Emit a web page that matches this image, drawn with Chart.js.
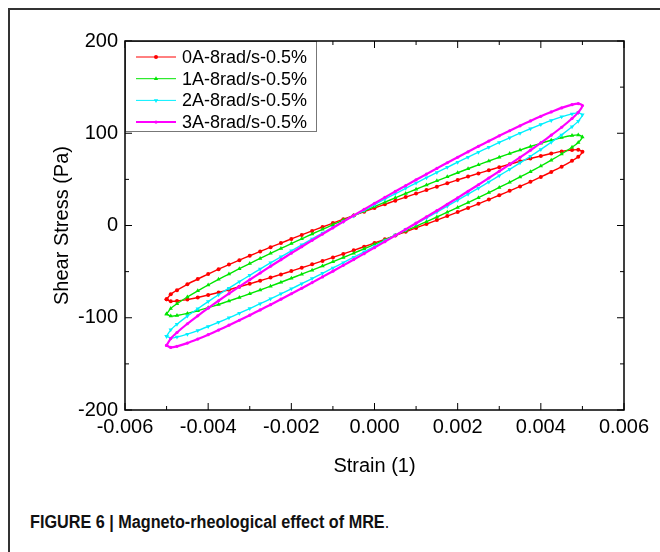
<!DOCTYPE html>
<html>
<head>
<meta charset="utf-8">
<script src="https://cdn.jsdelivr.net/npm/chart.js@4.4.1/dist/chart.umd.min.js"></script>
<style>
  html, body { margin: 0; padding: 0; background: #fff; }
  body { width: 660px; height: 552px; position: relative; overflow: hidden; }
  #frame { position: absolute; left: 8px; top: 8px; width: 660px; height: 560px;
           border-left: 2px solid #333; border-top: 2px solid #333; }
  #wrap { position: absolute; left: 0; top: 0; width: 660px; height: 500px; }
  #caption { position: absolute; left: 30px; top: 512px; font-family: "Liberation Sans", Arial, sans-serif;
             font-size: 18px; font-weight: bold; color: #111; transform: scaleX(0.9); transform-origin: left top;
             white-space: nowrap; }
  #caption span { font-weight: normal; }
</style>
</head>
<body>
<div id="frame"></div>
<div id="wrap"><canvas id="mre-chart" width="660" height="500"></canvas></div>
<div id="caption">FIGURE 6 | Magneto-rheological effect of MRE<span>.</span></div>
<script>
  // strain path: lower branch left -> right, then upper branch back
  const strain = [-0.005, -0.0049, -0.00475, -0.0045, -0.00425, -0.004, -0.00375, -0.0035, -0.00325, -0.003, -0.00275,
    -0.0025, -0.00225, -0.002, -0.00175, -0.0015, -0.00125, -0.001, -0.00075, -0.0005, -0.00025, 0,
    0.00025, 0.0005, 0.00075, 0.001, 0.00125, 0.0015, 0.00175, 0.002, 0.00225, 0.0025, 0.00275, 0.003,
    0.00325, 0.0035, 0.00375, 0.004, 0.00425, 0.0045, 0.00475, 0.0049, 0.005,
    0.0049, 0.00475, 0.0045, 0.00425, 0.004, 0.00375, 0.0035, 0.00325, 0.003, 0.00275, 0.0025, 0.00225,
    0.002, 0.00175, 0.0015, 0.00125, 0.001, 0.00075, 0.0005, 0.00025, 0, -0.00025, -0.0005, -0.00075,
    -0.001, -0.00125, -0.0015, -0.00175, -0.002, -0.00225, -0.0025, -0.00275, -0.003, -0.00325, -0.0035,
    -0.00375, -0.004, -0.00425, -0.0045, -0.00475, -0.0049, -0.005];

  const stress0A = [-80, -82.2, -81.9, -80.3, -78.0, -75.4, -72.6, -69.6, -66.4, -63.2, -59.9,
    -56.5, -53.0, -49.4, -45.8, -42.1, -38.4, -34.6, -30.8, -26.9, -23.0, -19,
    -15.0, -10.9, -6.8, -2.6, 1.6, 5.9, 10.2, 14.6, 19.0, 23.5, 28.1, 32.8,
    37.6, 42.4, 47.4, 52.6, 58.0, 63.7, 70.1, 74.6, 80,
    82.2, 81.9, 80.3, 78.0, 75.4, 72.6, 69.6, 66.4, 63.2, 59.9, 56.5, 53.0,
    49.4, 45.8, 42.1, 38.4, 34.6, 30.8, 26.9, 23.0, 19, 15.0, 10.9, 6.8,
    2.6, -1.6, -5.9, -10.2, -14.6, -19.0, -23.5, -28.1, -32.8, -37.6, -42.4,
    -47.4, -52.6, -58.0, -63.7, -70.1, -74.6, -80];
  const stress1A = [-96, -98.2, -97.6, -95.3, -92.4, -89.1, -85.6, -81.8, -78.0, -74, -69.9,
    -65.8, -61.5, -57.2, -52.8, -48.4, -43.9, -39.3, -34.7, -30, -25.3, -20.5,
    -15.7, -10.8, -5.9, -0.9, 4.2, 9.2, 14.4, 19.6, 24.9, 30.2, 35.7, 41.2,
    46.8, 52.6, 58.4, 64.5, 70.8, 77.5, 84.8, 90, 96,
    98.2, 97.6, 95.3, 92.4, 89.1, 85.6, 81.8, 78.0, 74, 69.9, 65.8, 61.5,
    57.2, 52.8, 48.4, 43.9, 39.3, 34.7, 30, 25.3, 20.5, 15.7, 10.8, 5.9,
    0.9, -4.2, -9.2, -14.4, -19.6, -24.9, -30.2, -35.7, -41.2, -46.8, -52.6,
    -58.4, -64.5, -70.8, -77.5, -84.8, -90, -96];
  const stress2A = [-120, -122.1, -121, -117.8, -113.9, -109.5, -104.9, -100.1, -95.1, -90, -84.8,
    -79.5, -74.1, -68.6, -63.1, -57.5, -51.8, -46, -40.3, -34.4, -28.5, -22.5,
    -16.5, -10.4, -4.3, 2, 8.2, 14.5, 20.9, 27.4, 33.9, 40.5, 47.2, 54,
    60.9, 67.9, 75.1, 82.5, 90.2, 98.2, 107, 113.1, 120,
    122.1, 121, 117.8, 113.9, 109.5, 104.9, 100.1, 95.1, 90, 84.8, 79.5, 74.1,
    68.6, 63.1, 57.5, 51.8, 46, 40.3, 34.4, 28.5, 22.5, 16.5, 10.4, 4.3,
    -2, -8.2, -14.5, -20.9, -27.4, -33.9, -40.5, -47.2, -54, -60.9, -67.9,
    -75.1, -82.5, -90.2, -98.2, -107, -113.1, -120];
  const stress3A = [-130, -132.2, -131, -127.5, -123.1, -118.4, -113.4, -108.1, -102.7, -97.2, -91.5,
    -85.8, -79.9, -74, -68, -61.9, -55.7, -49.5, -43.2, -36.9, -30.5, -24,
    -17.5, -10.9, -4.2, 2.5, 9.3, 16.1, 23, 30, 37.1, 44.2, 51.5, 58.8,
    66.3, 73.9, 81.6, 89.6, 97.9, 106.5, 116, 122.6, 130,
    132.2, 131, 127.5, 123.1, 118.4, 113.4, 108.1, 102.7, 97.2, 91.5, 85.8, 79.9,
    74, 68, 61.9, 55.7, 49.5, 43.2, 36.9, 30.5, 24, 17.5, 10.9, 4.2,
    -2.5, -9.3, -16.1, -23, -30, -37.1, -44.2, -51.5, -58.8, -66.3, -73.9,
    -81.6, -89.6, -97.9, -106.5, -116, -122.6, -130];

  const seriesNames = ["0A-8rad/s-0.5%", "1A-8rad/s-0.5%", "2A-8rad/s-0.5%", "3A-8rad/s-0.5%"];

  // axis ticks
  const xTicks = [-0.006, -0.004, -0.002, 0, 0.002, 0.004, 0.006];
  const xMinor = [-0.005, -0.003, -0.001, 0.001, 0.003, 0.005];
  const yTicks = [-200, -100, 0, 100, 200];
  const yMinor = [-150, -50, 50, 150];

  const FONT = "'Liberation Sans', Arial, sans-serif";

  function points(ys) {
    return strain.map((x, i) => ({ x: x, y: ys[i] }));
  }

  const styles = [
    { color: "#ff0000", pointStyle: "circle", radius: 2, rotation: 0, width: 1.4, order: 4 },
    { color: "#00e600", pointStyle: "triangle", radius: 2.5, rotation: 0, width: 1.4, order: 3 },
    { color: "#00f0ff", pointStyle: "triangle", radius: 2.5, rotation: 180, width: 1.4, order: 2 },
    { color: "#ff00ff", pointStyle: "circle", radius: 1.6, rotation: 0, width: 2.2, order: 1 }
  ];
  const allStress = [stress0A, stress1A, stress2A, stress3A];

  const datasets = allStress.map((ys, i) => ({
    label: seriesNames[i],
    data: points(ys),
    showLine: true,
    tension: 0.2,
    borderColor: styles[i].color,
    backgroundColor: styles[i].color,
    borderWidth: styles[i].width,
    pointStyle: styles[i].pointStyle,
    pointRotation: styles[i].rotation,
    pointRadius: styles[i].radius,
    pointBorderWidth: 0,
    order: styles[i].order
  }));

  // plot box, inward ticks and boxed legend
  const framePlugin = {
    id: "framePlugin",
    afterDatasetsDraw(chart) {
      const ctx = chart.ctx;
      const a = chart.chartArea;
      const xs = chart.scales.x, ys = chart.scales.y;
      ctx.save();
      ctx.strokeStyle = "#000";
      ctx.lineWidth = 1;
      function tick(x1, y1, x2, y2) {
        ctx.beginPath(); ctx.moveTo(x1, y1); ctx.lineTo(x2, y2); ctx.stroke();
      }
      xTicks.forEach(v => { const p = xs.getPixelForValue(v); tick(p, a.bottom, p, a.bottom - 7); tick(p, a.top, p, a.top + 7); });
      xMinor.forEach(v => { const p = xs.getPixelForValue(v); tick(p, a.bottom, p, a.bottom - 4); tick(p, a.top, p, a.top + 4); });
      yTicks.forEach(v => { const p = ys.getPixelForValue(v); tick(a.left, p, a.left + 7, p); tick(a.right, p, a.right - 7, p); });
      yMinor.forEach(v => { const p = ys.getPixelForValue(v); tick(a.left, p, a.left + 4, p); tick(a.right, p, a.right - 4, p); });

      // legend
      const lx = a.left, ly = a.top, lw = 191, lh = 90;
      ctx.fillStyle = "#fff";
      ctx.fillRect(lx, ly, lw, lh);
      ctx.strokeStyle = "#777";
      ctx.strokeRect(lx + 0.5, ly + 0.5, lw, lh);
      ctx.font = "18px " + FONT;
      ctx.textBaseline = "middle";
      seriesNames.forEach((name, i) => {
        const y = ly + 16 + i * 21.7;
        const st = styles[i];
        ctx.strokeStyle = st.color;
        ctx.fillStyle = st.color;
        ctx.lineWidth = i === 3 ? 2 : 1;
        tick(lx + 11, y, lx + 51, y);
        Chart.helpers.drawPoint(ctx, { pointStyle: st.pointStyle, rotation: st.rotation, radius: st.radius, borderWidth: 0 }, lx + 31, y);
        ctx.fillStyle = "#000";
        ctx.fillText(name, lx + 57, y + 1);
      });

      ctx.strokeStyle = "#000";
      ctx.lineWidth = 1.5;
      ctx.strokeRect(a.left, a.top, a.right - a.left, a.bottom - a.top);
      ctx.restore();
    }
  };

  const ctx = document.getElementById("mre-chart").getContext("2d");
  new Chart(ctx, {
    type: "scatter",
    data: { datasets: datasets },
    options: {
      responsive: false,
      animation: false,
      layout: { padding: { left: 0, top: 41, right: 36, bottom: 0 } },
      plugins: {
        legend: { display: false },
        tooltip: { enabled: false }
      },
      scales: {
        x: {
          type: "linear",
          min: -0.006,
          max: 0.006,
          grid: { display: false, drawTicks: false },
          border: { display: false },
          afterBuildTicks: function(scale) {
            scale.ticks = xTicks.map(v => ({ value: v }));
          },
          afterFit: function(scale) { scale.height = 90; },
          ticks: {
            color: "#000",
            padding: 5,
            maxRotation: 0,
            font: { family: FONT, size: 20 },
            callback: function(value) { return Number(value).toFixed(3); }
          },
          title: {
            display: true,
            text: "Strain (1)",
            color: "#000",
            font: { family: FONT, size: 20 },
            padding: { top: 0, bottom: 22 }
          }
        },
        y: {
          type: "linear",
          min: -200,
          max: 200,
          grid: { display: false, drawTicks: false },
          border: { display: false },
          afterBuildTicks: function(scale) {
            scale.ticks = yTicks.map(v => ({ value: v }));
          },
          afterFit: function(scale) { scale.width = 125; },
          ticks: {
            color: "#000",
            padding: 7,
            font: { family: FONT, size: 20 }
          },
          title: {
            display: true,
            text: "Shear Stress (Pa)",
            color: "#000",
            font: { family: FONT, size: 20 },
            padding: { top: 50, bottom: 0 }
          }
        }
      }
    },
    plugins: [framePlugin]
  });
</script>
</body>
</html>
